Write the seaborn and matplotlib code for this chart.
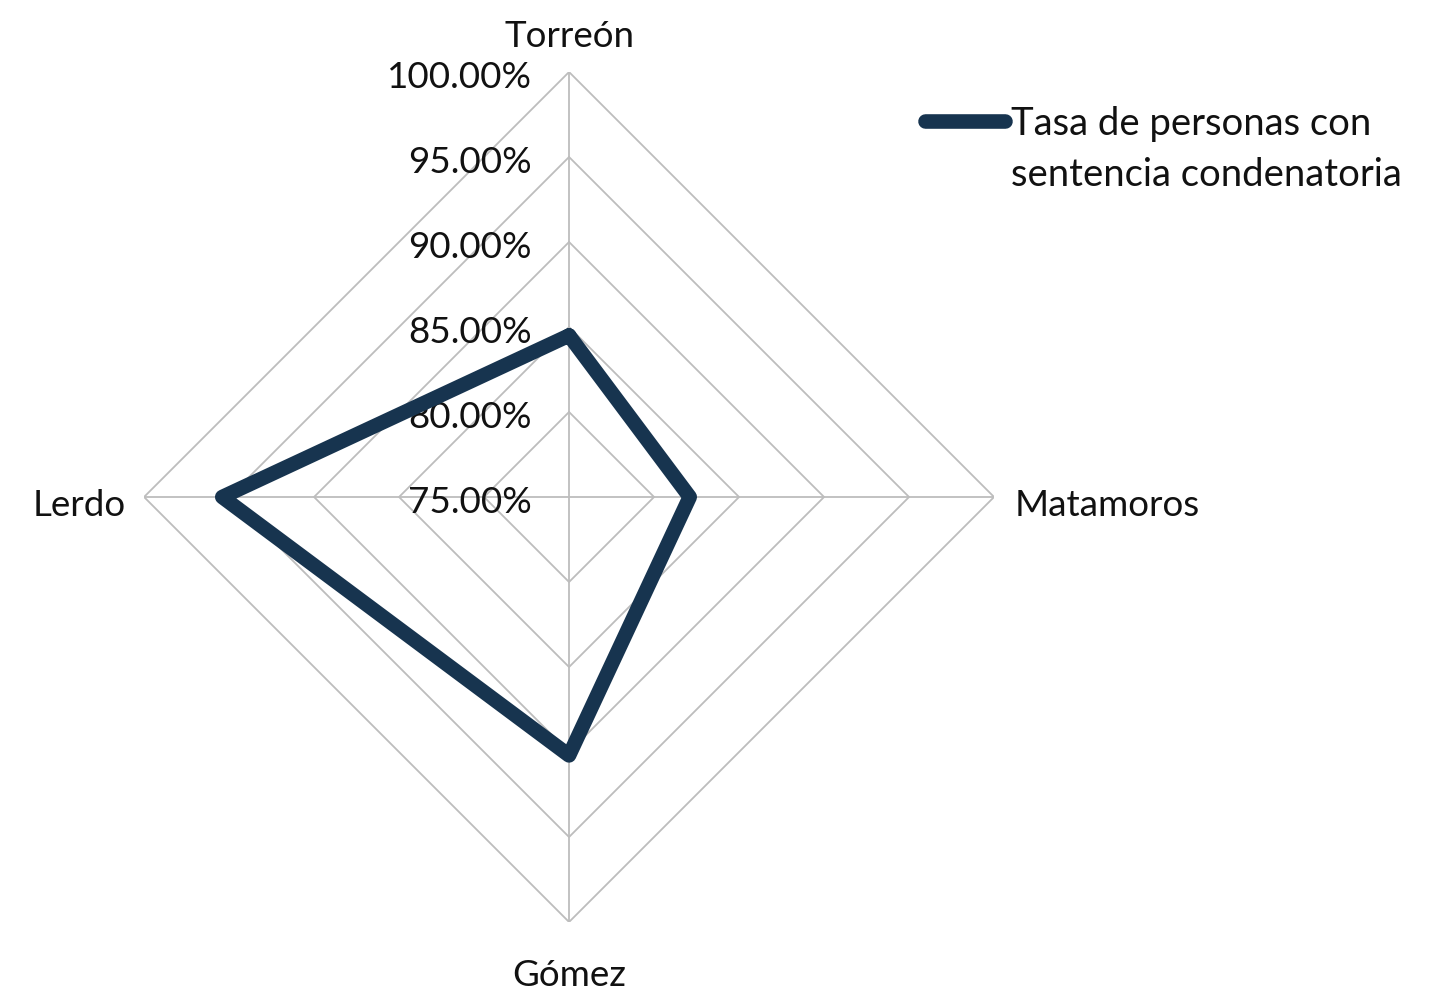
import numpy as np
import matplotlib
matplotlib.use("Agg")
import matplotlib.pyplot as plt
import seaborn as sns
import pandas as pd

# data
municipios = ["Torreón", "Matamoros", "Gómez", "Lerdo"]
tasa = [84.5, 82.1, 90.2, 95.4]
niveles = [75, 80, 85, 90, 95, 100]
serie = "Tasa de personas con\nsentencia condenatoria"

sns.set_style("white")
plt.rcParams["font.family"] = ["Lato", "DejaVu Sans"]
FS = 26.5

fig = plt.figure(figsize=(14.39, 9.93), dpi=100)
ax = fig.add_axes([0.1001, 0.0715, 0.5907, 0.856])
ax.set_xlim(-25, 25)
ax.set_ylim(-25, 25)
ax.axis("off")

base = niveles[0]
# clockwise from top
angles = np.pi / 2 - np.arange(len(municipios)) * 2 * np.pi / len(municipios)

grid_c = "#BDBDBD"
for lv in niveles[1:]:
    r = lv - base
    gx = np.append(r * np.cos(angles), r * np.cos(angles[0]))
    gy = np.append(r * np.sin(angles), r * np.sin(angles[0]))
    ax.plot(gx, gy, color=grid_c, lw=1.3, zorder=1)
rmax = niveles[-1] - base
for a in angles:
    ax.plot([0, rmax * np.cos(a)], [0, rmax * np.sin(a)], color=grid_c, lw=1.3, zorder=1)

# tick labels along the top spoke
for lv in niveles:
    ax.text(-2.2, lv - base - 0.3, f"{lv:.2f}%", ha="right", va="center",
            fontsize=FS, color="#111111", zorder=2)

# category labels
offs = [27.1, 26.2, 28.15, 26.1]
for name, a, o in zip(municipios, angles, offs):
    c, s = np.cos(a), np.sin(a)
    ha = "center" if abs(c) < 0.5 else ("left" if c > 0 else "right")
    ax.text(o * c, o * s - (0.5 if abs(c) > 0.5 else 0), name, ha=ha, va="center",
            fontsize=FS, color="#111111", clip_on=False)

r = np.array(tasa) - base
df = pd.DataFrame({
    "x": np.append(r * np.cos(angles), r[0] * np.cos(angles[0])),
    "y": np.append(r * np.sin(angles), r[0] * np.sin(angles[0])),
})
sns.lineplot(data=df, x="x", y="y", sort=False, estimator=None, color="#17344F",
             lw=10.5, solid_joinstyle="round", solid_capstyle="round",
             label=serie, ax=ax, zorder=3)

leg = ax.legend(loc="upper left", bbox_to_anchor=(0.643, 0.893), bbox_transform=fig.transFigure,
                frameon=False, fontsize=27.5, handlelength=2.1, handletextpad=0.15,
                borderpad=0, borderaxespad=0, labelspacing=0)
for t in leg.get_texts():
    t.set_linespacing(1.5)
    t.set_color("#111111")
# put the handle level with the first line of the label
h = leg.legend_handles[0]
h.set_ydata(np.asarray(h.get_ydata()) + 21)

fig.savefig("out.png", dpi=100)
